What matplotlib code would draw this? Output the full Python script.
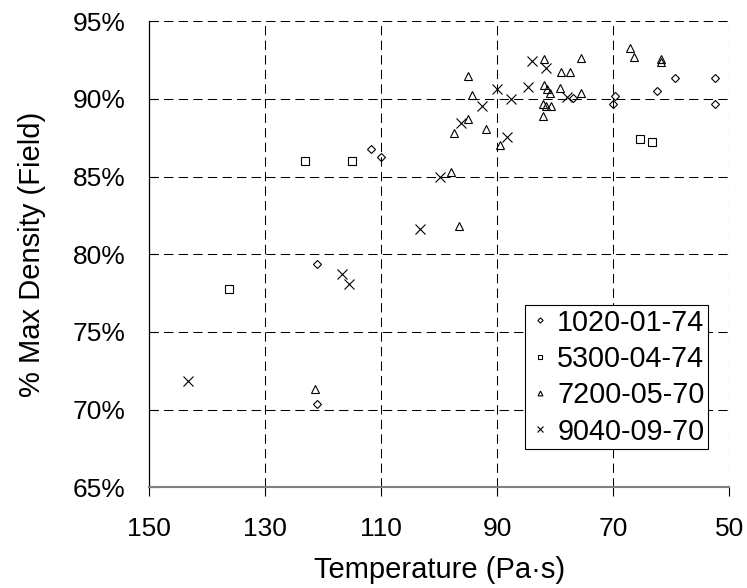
import matplotlib.pyplot as plt
from matplotlib.ticker import FuncFormatter

plt.rcParams['font.family'] = ['Liberation Sans', 'DejaVu Sans']

# 1020-01-74
x_1020 = [111.8, 110.1, 121.1, 121.1, 76.95, 69.7, 70.1, 62.4, 59.4, 52.5, 52.4]
y_1020 = [86.76, 86.24, 79.35, 70.34, 90.08, 90.17, 89.7, 90.51, 91.33, 91.35, 89.66]

# 5300-04-74
x_5300 = [123.1, 115.1, 136.3, 65.4, 63.3]
y_5300 = [86.0, 86.0, 77.76, 87.42, 87.25]

# 7200-05-70
x_7200 = [121.4, 96.6, 98.0, 97.4, 95.0, 95.0, 94.4, 91.95, 89.5, 81.95, 81.95,
          81.4, 81.0, 82.2, 81.6, 80.7, 82.2, 79.0, 77.4, 79.2, 75.6, 75.6,
          67.1, 66.5, 61.8, 61.8]
y_7200 = [71.34, 81.8, 85.32, 87.83, 88.69, 91.48, 90.27, 88.05, 87.03, 92.57, 90.92,
          90.66, 90.36, 89.67, 89.57, 89.57, 88.88, 91.74, 91.74, 90.69, 90.4, 92.62,
          93.28, 92.7, 92.6, 92.4]

# 9040-09-70
x_9040 = [143.3, 116.8, 115.5, 103.4, 99.8, 96.2, 92.6, 90.1, 88.3, 87.7, 84.7,
          84.1, 81.6, 78.0]
y_9040 = [71.84, 78.71, 78.08, 81.63, 85.0, 88.43, 89.57, 90.62, 87.53, 89.98, 90.75,
          92.42, 92.01, 90.11]

xticks = [150, 130, 110, 90, 70, 50]
yticks = [65, 70, 75, 80, 85, 90, 95]

fig = plt.figure(figsize=(7.47, 5.88), dpi=100)
ax = fig.add_axes([0.1999, 0.1713, 0.7764, 0.7925])

mk = dict(linestyle='none', mfc='none', mec='black', mew=0.8)
ax.plot(x_1020, y_1020, marker='D', ms=4.4, label='1020-01-74', **mk)
ax.plot(x_5300, y_5300, marker='s', ms=5.8, label='5300-04-74', **mk)
ax.plot(x_7200, y_7200, marker='^', ms=5.8, label='7200-05-70', **mk)
ax.plot(x_9040, y_9040, marker='x', ms=6.5, label='9040-09-70', **mk)

ax.set_xlim(150, 50)
ax.set_ylim(65, 95)
ax.set_xticks(xticks)
ax.set_yticks(yticks)
ax.yaxis.set_major_formatter(FuncFormatter(lambda v, p: '%d%%' % v))

ax.grid(True, color='black', linestyle=(0, (9, 5)), linewidth=0.75)
ax.set_axisbelow(True)

ax.spines['top'].set_visible(False)
ax.spines['right'].set_visible(False)
ax.spines['left'].set_linewidth(0.9)
ax.spines['bottom'].set_color('#808080')
ax.spines['bottom'].set_linewidth(1.5)

ax.tick_params(axis='x', direction='out', length=6.5, width=0.8, pad=15, labelsize=19)
ax.tick_params(axis='y', direction='in', length=6.5, width=0.8, pad=17, labelsize=19)

ax.set_xlabel('Temperature (Pa·s)', fontsize=21, labelpad=11)
ax.set_ylabel('% Max Density (Field)', fontsize=21, labelpad=19)

leg = ax.legend(loc='lower right', bbox_to_anchor=(708 / 747, 1 - 449 / 588),
                bbox_transform=fig.transFigure, borderaxespad=0, fontsize=20.7,
                frameon=True, fancybox=False, framealpha=1, edgecolor='black',
                markerscale=0.6, handlelength=0.8, handletextpad=0.2,
                labelspacing=0.29, borderpad=0.12)
leg.get_frame().set_linewidth(0.8)

fig.savefig('out.png', dpi=100)
